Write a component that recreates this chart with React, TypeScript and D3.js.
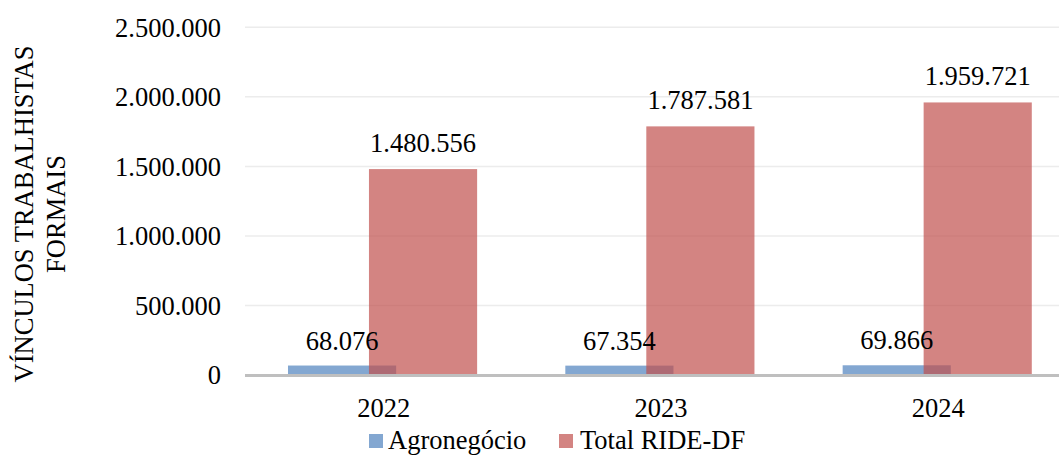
import React from "react";
import * as d3 from "d3";

const years = ["2022", "2023", "2024"];
const agronegocio = [68076, 67354, 69866];
const totalRide = [1480556, 1787581, 1959721];
const yTicks = [0, 500000, 1000000, 1500000, 2000000, 2500000];
const seriesNames = ["Agronegócio", "Total RIDE-DF"];

const W = 1059;
const H = 456;
const FF = "Liberation Serif, Tinos, Times New Roman, serif";
const FS = 26.5;
const BLUE = "#4f81bd";
const RED = "#c0504d";

const fmt = (v: number) => {
  const s = Math.round(v).toString();
  return s.replace(/\B(?=(\d{3})+(?!\d))/g, ".");
};

function T(props: { x: number; y: number; anchor?: string; dy?: string; children: React.ReactNode }) {
  return (
    <text
      x={props.x}
      y={props.y}
      dy={props.dy}
      textAnchor={props.anchor || "start"}
      fontFamily={FF}
      fontSize={FS}
      fill="#000"
      style={{ fontFamily: FF, fontSize: FS }}
    >
      {props.children}
    </text>
  );
}

export default function App() {
  const x = d3.scaleBand<string>().domain(years).range([245, 1077]).paddingInner(0).paddingOuter(0);
  const y = d3.scaleLinear().domain([0, 2500000]).range([375, 27.3]);
  const step = x.step();
  const bw = step * 0.39;
  const blueOff = step * 0.5 - step * 0.15 - bw / 2;
  const redOff = step * 0.5 + step * 0.142 - bw / 2;

  return (
    <div style={{ position: "fixed", left: 0, top: 0, fontFamily: FF }}>
      <svg width={W} height={H} style={{ display: "block", background: "#fff", fontFamily: FF }}>
        {yTicks.map((t) => (
          <g key={t}>
            {t > 0 && (
              <line x1={245} x2={W} y1={y(t)} y2={y(t)} stroke="#ececec" strokeWidth={1.5} />
            )}
            <T x={221} y={y(t)} dy="0.35em" anchor="end">
              {fmt(t)}
            </T>
          </g>
        ))}
        {years.map((yr, i) => (
          <g key={yr}>
            <rect x={(x(yr) as number) + blueOff} width={bw} y={y(agronegocio[i])} height={y(0) - y(agronegocio[i])} fill={BLUE} fillOpacity={0.7} />
            <rect x={(x(yr) as number) + redOff} width={bw} y={y(totalRide[i])} height={y(0) - y(totalRide[i])} fill={RED} fillOpacity={0.7} />
          </g>
        ))}
        <line x1={245} x2={W} y1={y(0) + 0.5} y2={y(0) + 0.5} stroke="#bfbfbf" strokeWidth={3} />
        {years.map((yr, i) => (
          <g key={"l" + yr}>
            <T x={(x(yr) as number) + blueOff + bw / 2} y={y(agronegocio[i]) - 16} anchor="middle">
              {fmt(agronegocio[i])}
            </T>
            <T x={(x(yr) as number) + redOff + bw / 2} y={y(totalRide[i]) - 17} anchor="middle">
              {fmt(totalRide[i])}
            </T>
            <T x={(x(yr) as number) + step / 2} y={417} anchor="middle">
              {yr}
            </T>
          </g>
        ))}
        <g transform="translate(33,214) rotate(-90)">
          <T x={0} y={0} anchor="middle">VÍNCULOS TRABALHISTAS</T>
          <T x={0} y={32} anchor="middle">FORMAIS</T>
        </g>
        <g>
          <rect x={369} y={434} width={14} height={14} fill={BLUE} fillOpacity={0.7} />
          <T x={388} y={449}>{seriesNames[0]}</T>
          <rect x={559} y={434} width={14} height={14} fill={RED} fillOpacity={0.7} />
          <T x={580} y={449}>{seriesNames[1]}</T>
        </g>
      </svg>
    </div>
  );
}
